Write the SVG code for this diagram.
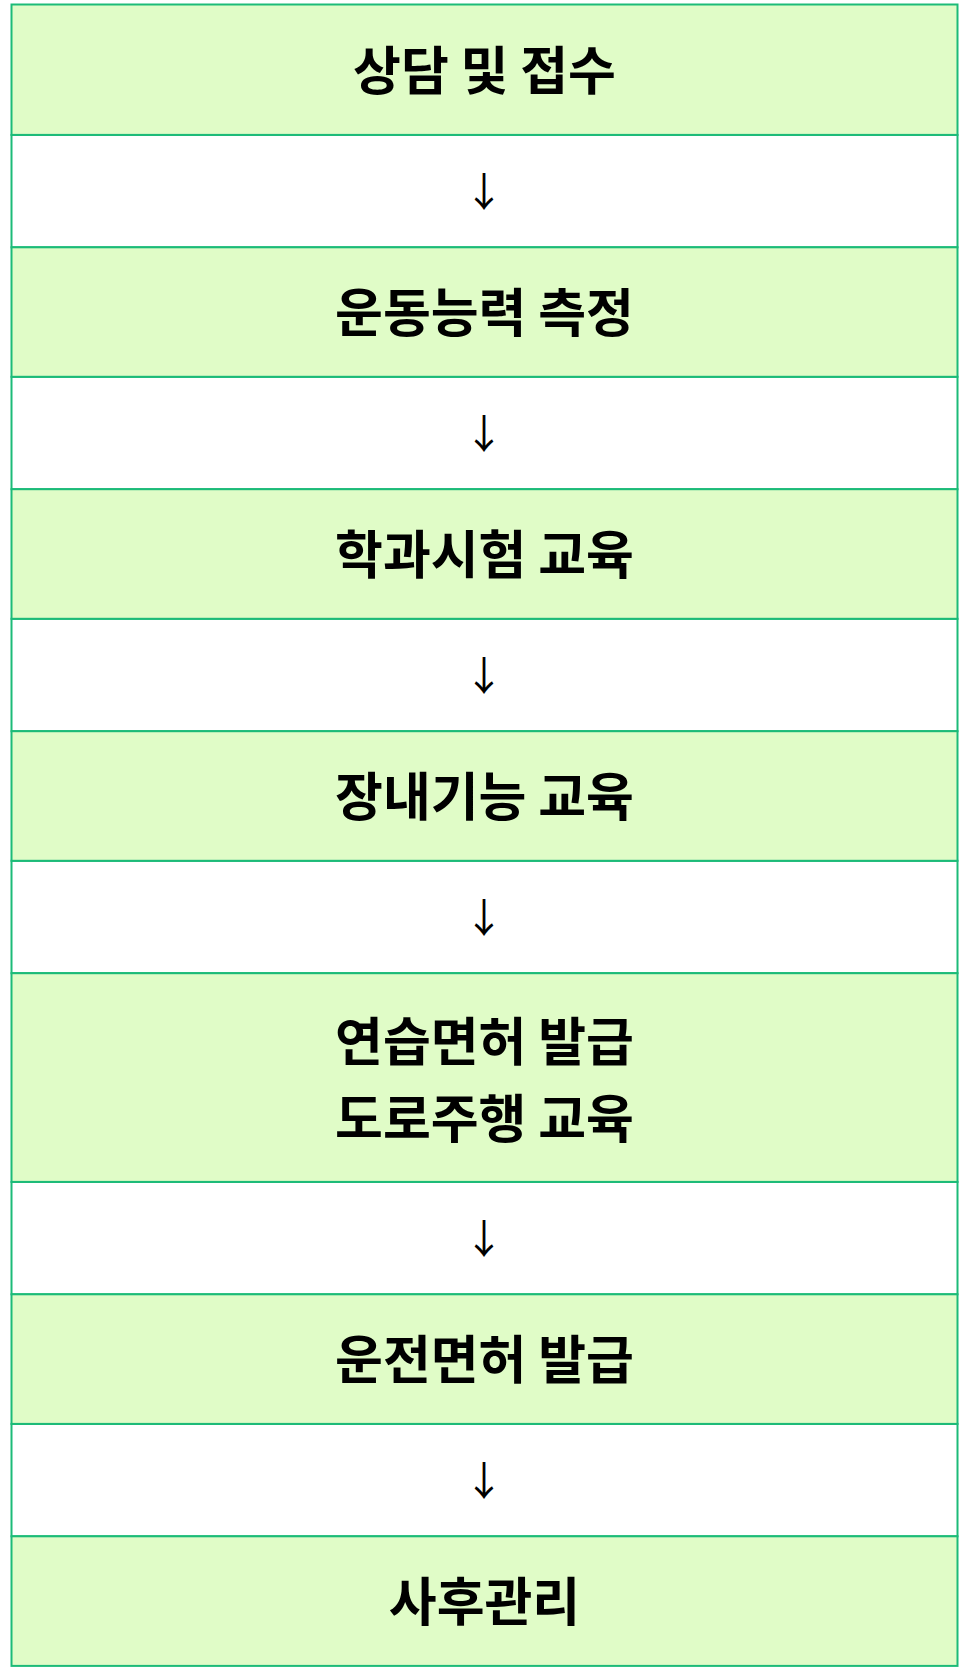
<svg xmlns="http://www.w3.org/2000/svg" width="970" height="1678" viewBox="0 0 970 1678">
<style>
.step{fill:#e0fcc7;stroke:#1cbb78;stroke-width:2}
.gap{fill:#ffffff;stroke:#1cbb78;stroke-width:2}
.lbl{font-family:"Noto Sans CJK KR","Noto Sans",sans-serif;font-weight:bold;font-size:52px;fill:#000;text-anchor:middle;dominant-baseline:central}
.arr{font-family:"Noto Sans CJK KR",sans-serif;font-size:40px;fill:#000;text-anchor:middle;dominant-baseline:central}
</style>
<rect x="0" y="0" width="970" height="1678" fill="#ffffff"/>
<g id="connectors">
<g id="c1"><rect class="gap" x="11.5" y="134.9" width="946" height="112.4"/><text class="arr" x="484" y="189">↓</text></g>
<g id="c2"><rect class="gap" x="11.5" y="376.8" width="946" height="112.4"/><text class="arr" x="484" y="431">↓</text></g>
<g id="c3"><rect class="gap" x="11.5" y="618.8" width="946" height="112.4"/><text class="arr" x="484" y="673">↓</text></g>
<g id="c4"><rect class="gap" x="11.5" y="860.8" width="946" height="112.4"/><text class="arr" x="484" y="915">↓</text></g>
<g id="c5"><rect class="gap" x="11.5" y="1181.9" width="946" height="112.4"/><text class="arr" x="484" y="1236">↓</text></g>
<g id="c6"><rect class="gap" x="11.5" y="1423.9" width="946" height="112.4"/><text class="arr" x="484" y="1478">↓</text></g>
</g>
<g id="n1"><rect class="step" x="11.5" y="4.5" width="946" height="130.4"/><text class="lbl" x="484.5" y="67">상담 및 접수</text></g>
<g id="n2"><rect class="step" x="11.5" y="247.3" width="946" height="129.5"/><text class="lbl" x="484.5" y="309">운동능력 측정</text></g>
<g id="n3"><rect class="step" x="11.5" y="489.2" width="946" height="129.6"/><text class="lbl" x="484.5" y="551">학과시험 교육</text></g>
<g id="n4"><rect class="step" x="11.5" y="731.2" width="946" height="129.6"/><text class="lbl" x="484.5" y="793">장내기능 교육</text></g>
<g id="n5"><rect class="step" x="11.5" y="973.2" width="946" height="208.7"/><text class="lbl" x="484.5" y="1038">연습면허 발급</text><text class="lbl" x="484.5" y="1115">도로주행 교육</text></g>
<g id="n6"><rect class="step" x="11.5" y="1294.3" width="946" height="129.6"/><text class="lbl" x="484.5" y="1356">운전면허 발급</text></g>
<g id="n7"><rect class="step" x="11.5" y="1536.3" width="946" height="129.6"/><text class="lbl" x="484.5" y="1598">사후관리</text></g>
</svg>
